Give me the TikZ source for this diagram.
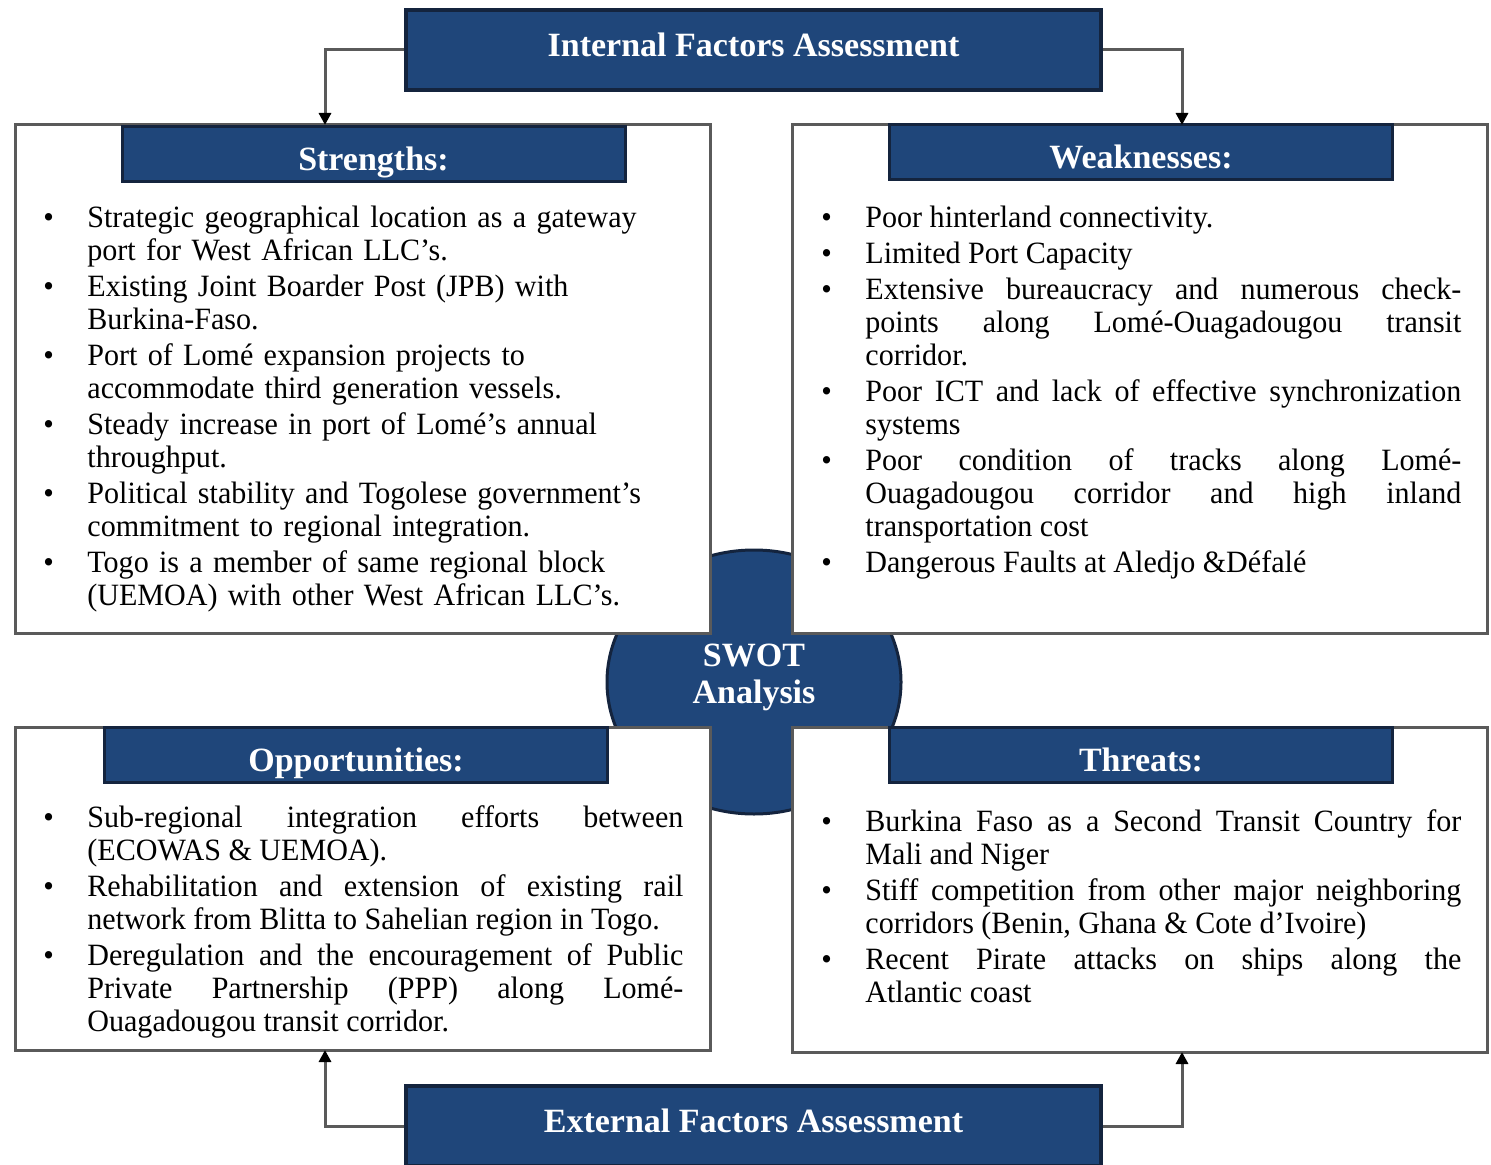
\documentclass[tikz,border=0pt]{standalone}
\usepackage{fontspec}
\setmainfont{Liberation Serif}
\newfontfamily\pointfont[FakeStretch=0.97]{Liberation Serif}
\usetikzlibrary{arrows.meta,shapes.geometric}
\definecolor{swotblue}{RGB}{31,70,122}
\definecolor{swotdark}{RGB}{20,36,62}
\definecolor{framegray}{RGB}{90,90,90}
\newcommand{\swotitem}{\par\hangindent=22pt\hangafter=1\noindent\makebox[22pt][l]{\textbullet}}

\begin{document}
\begin{tikzpicture}
  [x=0.5pt,y=-0.5pt,
   panel/.style={draw=framegray,line width=1.5pt,fill=white,minimum width=347.5pt,inner sep=0pt},
   header/.style={draw=swotdark,line width=1.5pt,fill=swotblue,text=white,font=\bfseries\fontsize{17}{20}\selectfont,minimum width=251.5pt,minimum height=27.5pt,text height=16.5pt,text depth=0pt},
   factor/.style={draw=swotdark,line width=2pt,fill=swotblue,text=white,font=\bfseries\fontsize{17}{20}\selectfont,minimum width=347.5pt,minimum height=40pt,text height=6.5pt,text depth=0pt},
   points/.style={anchor=north west,inner sep=0pt,text width=320pt,font=\pointfont\fontsize{15.5}{16.5}\selectfont,execute at begin node=\setlength{\parskip}{1.5pt}},
   conn/.style={draw=framegray,line width=1.5pt,-{Triangle[width=6pt,length=6pt,color=black]}}]
  \useasboundingbox (0,0) rectangle (1491,1165);
  % centre of the matrix
  \node (swot) [ellipse,fill=swotblue,draw=swotdark,line width=1.5pt,minimum width=147pt,minimum height=132pt] at (754,682) {};
  \node (swotlabel) [text=white,font=\bfseries\fontsize{17}{18.5}\selectfont,align=center] at (754,677) {SWOT\\Analysis};
  \node (internal) [factor] at (753.5,50) {Internal Factors Assessment};
  \node (external) [factor] at (753.5,1126) {External Factors Assessment};
  % the four quadrants
  \node (strbox) [panel,minimum height=254pt] at (362.5,379) {};
  \node (weakbox) [panel,minimum height=254pt] at (1139.5,379) {};
  \node (oppbox) [panel,minimum height=161.5pt] at (362.5,888.5) {};
  \node (thrbox) [panel,minimum height=162.5pt] at (1139.5,889.5) {};
  \node (strhead) [header] at (373.5,154.5) {Strengths:};
  \node (weakhead) [header] at (1141,152.5) {Weaknesses:};
  \node (opphead) [header] at (356,755) {Opportunities:};
  \node (thrhead) [header] at (1141,755) {Threats:};
  \node (strtext) [points,align=left] at (43,191) {%
    \swotitem Strategic geographical location as a gateway\newline port for West African LLC’s.
    \swotitem Existing Joint Boarder Post (JPB) with\newline Burkina-Faso.
    \swotitem Port of Lomé expansion projects to\newline accommodate third generation vessels.
    \swotitem Steady increase in port of Lomé’s annual\newline throughput.
    \swotitem Political stability and Togolese government’s\newline commitment to regional integration.
    \swotitem Togo is a member of same regional block\newline (UEMOA) with other West African LLC’s.\par};
  \node (weaktext) [points,align=justify] at (821,191) {%
    \swotitem Poor hinterland connectivity.
    \swotitem Limited Port Capacity
    \swotitem Extensive bureaucracy and numerous check-\linebreak points along Lomé-Ouagadougou transit\linebreak corridor.
    \swotitem Poor ICT and lack of effective synchronization\linebreak systems
    \swotitem Poor condition of tracks along Lomé-\linebreak Ouagadougou corridor and high inland\linebreak transportation cost
    \swotitem Dangerous Faults at Aledjo \&Défalé\par};
  \node (opptext) [points,align=justify] at (43,791) {%
    \swotitem Sub-regional integration efforts between\linebreak (ECOWAS \& UEMOA).
    \swotitem Rehabilitation and extension of existing rail\linebreak network from Blitta to Sahelian region in Togo.
    \swotitem Deregulation and the encouragement of Public\linebreak Private Partnership (PPP) along Lomé-\linebreak Ouagadougou transit corridor.\par};
  \node (thrtext) [points,align=justify] at (821,795) {%
    \swotitem Burkina Faso as a Second Transit Country for\linebreak Mali and Niger
    \swotitem Stiff competition from other major neighboring\linebreak corridors (Benin, Ghana \& Cote d’Ivoire)
    \swotitem Recent Pirate attacks on ships along the\linebreak Atlantic coast\par};
  % connectors from the factor boxes
  \coordinate (strin) at (325,125);
  \coordinate (weakin) at (1182,125);
  \coordinate (oppin) at (325,1050);
  \coordinate (thrin) at (1182,1052);
  \foreach \from/\to in {internal.west/strin,internal.east/weakin,external.west/oppin,external.east/thrin}
    \draw[conn] (\from) -| (\to);
\end{tikzpicture}
\end{document}
